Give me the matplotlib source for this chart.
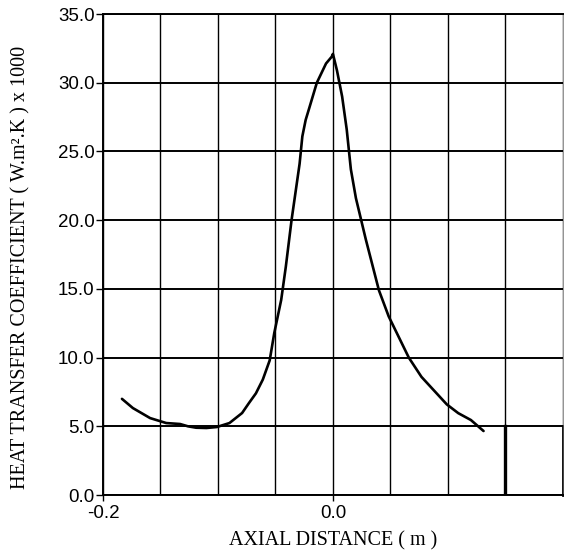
import numpy as np
import matplotlib
matplotlib.use('Agg')
import matplotlib.pyplot as plt

# curve (axial distance in m, h in W/m2K / 1000)
axial_x = [-0.1835, -0.174, -0.159, -0.145, -0.133, -0.126, -0.119, -0.110,
           -0.101, -0.090, -0.079, -0.073, -0.067, -0.061, -0.055, -0.051,
           -0.045, -0.041, -0.036, -0.029, -0.0266, -0.0237, -0.0208, -0.014,
           -0.006, -0.001, 0.0, 0.0035, 0.008, 0.012, 0.0156, 0.020, 0.0286,
           0.040, 0.0485, 0.066, 0.077, 0.099, 0.109, 0.120, 0.131]
htc = [7.0, 6.33, 5.6, 5.24, 5.17, 5.0, 4.9, 4.88, 4.95, 5.24, 5.97, 6.7,
       7.4, 8.4, 9.8, 11.8, 14.2, 16.6, 20.0, 24.1, 26.1, 27.3, 28.1, 30.0,
       31.4, 31.9, 32.1, 30.9, 29.0, 26.6, 23.7, 21.6, 18.6, 14.9, 13.0, 10.0,
       8.6, 6.6, 5.96, 5.46, 4.66]

y_ticks = [0, 5, 10, 15, 20, 25, 30, 35]
x_ticks = [-0.2, 0.0]
x_tick_labels = ['-0.2', '0.0']
x_grid = np.arange(-0.2, 0.2001, 0.05)
box_x = [0.15, 0.2]   # heavy box at lower right
box_top = 5.0

fig = plt.figure(figsize=(5.64, 5.55), dpi=100)
ax = fig.add_axes([0.1826, 0.108, 0.8154, 0.8667])

ax.set_xlim(-0.2, 0.2)
ax.set_ylim(0, 35)

for yv in y_ticks:
    ax.axhline(yv, color='black', lw=1.4, zorder=1)
for xv in x_grid:
    ax.axvline(xv, color='black', lw=1.0, zorder=1)

ax.plot(axial_x, htc, color='black', lw=1.9, zorder=3,
        solid_joinstyle='round', solid_capstyle='round')

# heavy box at the lower right
ax.plot([box_x[0], box_x[0]], [0, box_top], color='black', lw=2.4, zorder=2)
ax.plot([box_x[1], box_x[1]], [0, box_top], color='black', lw=2.0, zorder=2, clip_on=False)

ax.set_yticks(y_ticks)
ax.set_yticklabels([f'{v:.1f}' for v in y_ticks], fontfamily='Liberation Sans', fontsize=13.5)
ax.set_xticks(x_ticks)
ax.set_xticklabels(x_tick_labels, fontfamily='Liberation Sans', fontsize=13.5)
ax.tick_params(axis='y', direction='out', length=5, width=1, pad=1)
ax.tick_params(axis='x', direction='out', length=4, width=1, pad=3)

for s in ['left', 'bottom', 'top']:
    ax.spines[s].set_linewidth(1.4)
ax.spines['right'].set_linewidth(0.5)
ax.spines['right'].set_color('#666666')

ax.set_xlabel('AXIAL DISTANCE ( m )', fontfamily='Liberation Serif', fontsize=14.5)
ax.xaxis.set_label_coords(0.5, -0.075)
ax.set_ylabel('HEAT TRANSFER COEFFICIENT ( W.m\u00b2.K ) x 1000',
              fontfamily='Liberation Serif', fontsize=14.5)
ax.yaxis.set_label_coords(-0.158, 0.474)

fig.savefig('out.png', dpi=100)
